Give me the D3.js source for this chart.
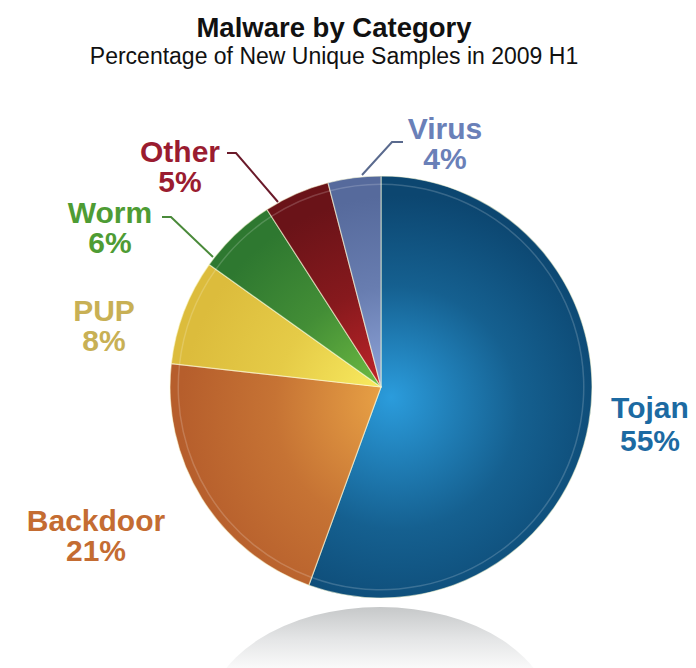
<!DOCTYPE html>
<html>
<head>
<meta charset="utf-8">
<script src="https://cdn.jsdelivr.net/npm/d3@7"></script>
<style>
  html, body { margin: 0; padding: 0; background: #fff; }
  svg { display: block; font-family: "Liberation Sans", Arial, Helvetica, sans-serif; }
</style>
</head>
<body>
<svg id="chart" width="696" height="668"></svg>
<script>
// Share of new unique malware samples, 2009 H1
const categories = ["Tojan", "Backdoor", "PUP", "Worm", "Other", "Virus"];
const shares = [55, 21, 8, 6, 5, 4];

// Slice shading: [centre colour, edge colour] and label colour
const sliceColors = [
  ["#2b9cdc", "#0c4670"],
  ["#eaa446", "#b65e2c"],
  ["#fbee62", "#dcbc3c"],
  ["#74c244", "#2e7830"],
  ["#c8262a", "#6a1318"],
  ["#93a9de", "#566a9c"]
];
const labelColors = ["#1c6aa2", "#c46c32", "#c8b055", "#4e9c34", "#9a1c30", "#6a80b8"];
const leaderColors = [null, null, null, "#4a8a3a", "#6a1a2a", "#5a6a8e"];

// Label placement (centre x, first baseline) and leader polylines
const labelPos = [
  [650, 418], [96, 531], [104, 321], [110, 223], [180, 162], [445, 139]
];
const leaders = [
  null, null, null,
  [[162, 217], [171, 217], [213, 257]],
  [[227, 153], [236, 153], [278, 202]],
  [[403, 142], [392, 142], [362, 175]]
];

const svg = d3.select("#chart");
const cx = 381, cy = 387, R = 211;

const defs = svg.append("defs");

// Floor reflection under the pie
const refl = defs.append("linearGradient").attr("id", "refl")
  .attr("x1", 0).attr("y1", 0).attr("x2", 0).attr("y2", 1);
refl.append("stop").attr("offset", "0%").attr("stop-color", "#c6c8c9");
refl.append("stop").attr("offset", "14%").attr("stop-color", "#e4e5e6");
refl.append("stop").attr("offset", "28%").attr("stop-color", "#fbfbfb");
refl.append("stop").attr("offset", "40%").attr("stop-color", "#ffffff");

svg.append("ellipse")
  .attr("cx", 380).attr("cy", 720).attr("rx", 173).attr("ry", 113)
  .attr("fill", "url(#refl)");

// Titles
svg.append("text")
  .attr("x", 334).attr("y", 37)
  .attr("text-anchor", "middle")
  .attr("font-size", 27.5).attr("font-weight", "bold").attr("fill", "#111")
  .text("Malware by Category");
svg.append("text")
  .attr("x", 334).attr("y", 64)
  .attr("text-anchor", "middle")
  .attr("font-size", 23).attr("fill", "#111")
  .text("Percentage of New Unique Samples in 2009 H1");

// Radial gradients per slice
sliceColors.forEach((c, i) => {
  const g = defs.append("radialGradient").attr("id", "sl" + i)
    .attr("gradientUnits", "userSpaceOnUse")
    .attr("cx", 20).attr("cy", 30).attr("r", R * 1.05)
    .attr("fx", 10).attr("fy", 10);
  g.append("stop").attr("offset", "0%").attr("stop-color", c[0]);
  g.append("stop").attr("offset", "55%").attr("stop-color", d3.interpolateRgb(c[0], c[1])(0.7));
  g.append("stop").attr("offset", "100%").attr("stop-color", c[1]);
});

const data = categories.map((name, i) => ({ name, value: shares[i], i }));
const pie = d3.pie().sort(null).value(d => d.value);
const arc = d3.arc().innerRadius(0).outerRadius(R);
const arcs = pie(data);

const gPie = svg.append("g").attr("transform", `translate(${cx},${cy})`);

gPie.selectAll("path.slice")
  .data(arcs)
  .join("path")
  .attr("class", "slice")
  .attr("d", arc)
  .attr("fill", d => `url(#sl${d.data.i})`)
  .attr("stroke", "rgba(255,255,220,0.55)")
  .attr("stroke-width", 1.2)
  .attr("stroke-linejoin", "round");

// Bevel highlight ring just inside the rim
const rim = d3.arc().innerRadius(R - 9).outerRadius(R - 7.5);
gPie.selectAll("path.rim")
  .data(arcs)
  .join("path")
  .attr("class", "rim")
  .attr("d", rim)
  .attr("fill", "rgba(255,255,255,0.18)");

// Leader lines
leaders.forEach((pts, i) => {
  if (!pts) return;
  svg.append("path")
    .attr("d", d3.line()(pts))
    .attr("fill", "none")
    .attr("stroke", leaderColors[i])
    .attr("stroke-width", 2);
});

// Labels
arcs.forEach(a => {
  const i = a.data.i;
  const [x, y] = labelPos[i];
  const t = svg.append("text")
    .attr("text-anchor", "middle")
    .attr("font-size", 30).attr("font-weight", "bold")
    .attr("fill", labelColors[i]);
  t.append("tspan").attr("x", x).attr("y", y).text(a.data.name);
  t.append("tspan").attr("x", x).attr("y", y + (i === 0 ? 33 : 30)).text(a.data.value + "%");
});
</script>
</body>
</html>
